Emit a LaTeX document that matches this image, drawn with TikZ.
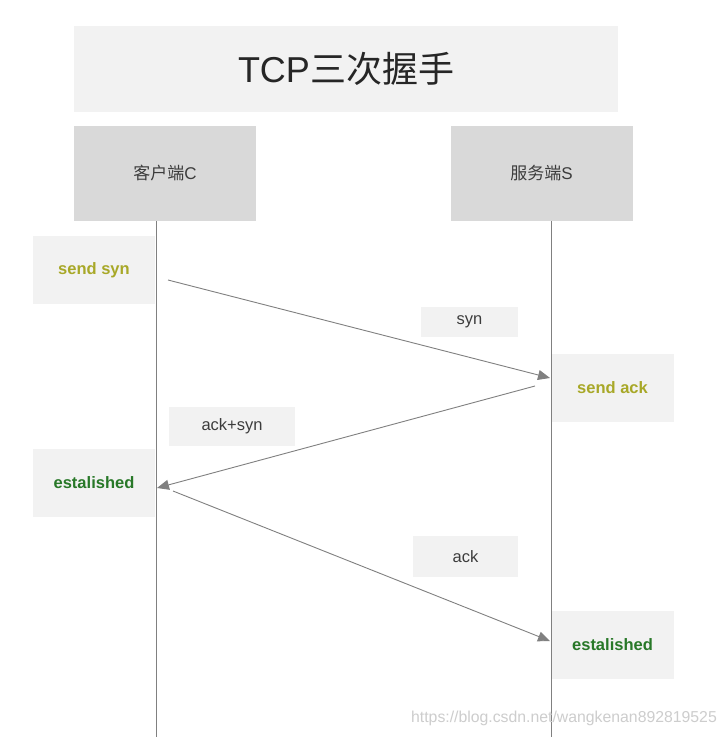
\documentclass[tikz,border=0pt]{standalone}
\usepackage{fontspec}
\setmainfont{Liberation Sans}
\newfontfamily\cjk{Noto Sans CJK SC}
\usetikzlibrary{arrows.meta}
\definecolor{lightbox}{RGB}{242,242,242}
\definecolor{headbox}{RGB}{217,217,217}
\definecolor{olivetext}{RGB}{168,168,40}
\definecolor{greentext}{RGB}{40,120,40}
\definecolor{plaintext}{RGB}{60,60,60}
\definecolor{linegrey}{RGB}{128,128,128}
\definecolor{wmgrey}{RGB}{205,205,205}
\tikzset{
  box/.style={fill=lightbox, inner sep=0pt, text=plaintext},
  headnode/.style={fill=headbox, inner sep=0pt, minimum width=182pt, minimum height=95pt, text=plaintext, font=\fontsize{17}{20}\selectfont},
  state/.style={box, minimum width=122pt, minimum height=68pt, font=\bfseries\fontsize{16.5}{20}\selectfont},
  msg/.style={box, font=\fontsize{16.5}{20}\selectfont},
  lifeline/.style={draw=linegrey, line width=0.9pt},
  msgarrow/.style={draw=linegrey, line width=0.9pt, -{Triangle[length=12pt,width=10pt]}}
}
\begin{document}
\begin{tikzpicture}[x=1pt,y=-1pt]
\useasboundingbox (0,0) rectangle (728,737);
\fill[white] (0,0) rectangle (728,737);
% title
\node[box, minimum width=544pt, minimum height=86pt, font=\fontsize{36}{40}\selectfont, text=black!85] (title) at (346,69) {TCP{\cjk 三次握手}};
% heads
\node[headnode] (client) at (165,173.5) {{\cjk 客户端}C};
\node[headnode] (server) at (541.5,173.5) {{\cjk 服务端}S};
% lifeline ends
\coordinate (cend) at (156,737);
\coordinate (send) at (551,737);
\draw[lifeline] (client.south -| cend) -- (cend);
\draw[lifeline] (server.south -| send) -- (send);
% states
\node[state, text=olivetext] (sendsyn) at (94,270) {send syn};
\node[state, text=olivetext] (sendack) at (612.5,387.5) {send ack};
\node[state, text=greentext] (estc) at (94,483) {estalished};
\node[state, text=greentext] (ests) at (612.5,645) {estalished};
% message labels
\node[msg, minimum width=97pt, minimum height=30pt] (synlbl) at (469.5,322) {syn};
\node[msg, minimum width=126pt, minimum height=39pt] (acksynlbl) at (232,426.5) {ack+syn};
\node[msg, minimum width=105pt, minimum height=41pt] (acklbl) at (465.5,556.5) {ack};
% arrow ends
\coordinate (a1s) at (168,280);
\coordinate (a1e) at (550,378);
\coordinate (a2s) at (535,386);
\coordinate (a2e) at (157,488);
\coordinate (a3s) at (173,491);
\coordinate (a3e) at (550,641);
\draw[msgarrow] (a1s) -- (a1e);
\draw[msgarrow] (a2s) -- (a2e);
\draw[msgarrow] (a3s) -- (a3e);
% watermark
\node[text=wmgrey, inner sep=0pt, font=\fontsize{15.8}{18}\selectfont] (wm) at (564,718) {https://blog.csdn.net/wangkenan892819525};
\end{tikzpicture}
\end{document}
